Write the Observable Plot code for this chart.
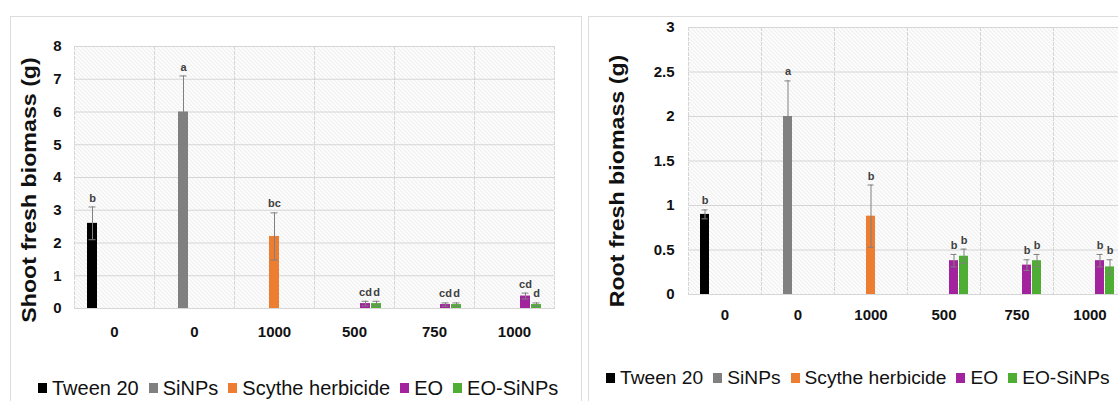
<!DOCTYPE html>
<html><head><meta charset="utf-8">
<script src="https://cdn.jsdelivr.net/npm/d3@7"></script>
<script src="https://cdn.jsdelivr.net/npm/@observablehq/plot@0.6"></script>
<style>
html,body{margin:0;padding:0;background:#fff;}
body{width:1118px;height:401px;overflow:hidden;position:relative;font-family:"Liberation Sans",Arial,sans-serif;}
.panel{position:absolute;border:1px solid #dcdcdc;box-sizing:border-box;background:#fff;}
.chart{position:absolute;top:0;}
.chart svg{max-width:none !important;}
.ytitle{position:absolute;font-weight:bold;font-size:20px;color:#111;white-space:nowrap;transform:translate(-50%,-50%) rotate(-90deg) scaleX(1.16);line-height:1;}
.legend{position:absolute;display:flex;align-items:center;font-size:20px;color:#111;white-space:nowrap;line-height:22px;}
.legend .item{display:flex;align-items:center;margin-right:10px;}
.legend .sw{width:9px;height:10px;margin-right:5px;}
</style></head>
<body>
<div class="panel" style="left:10px;top:16px;width:572px;height:430px;"></div>
<div class="panel" style="left:588px;top:16px;width:580px;height:430px;"></div>
<div id="left" class="chart" style="left:0px;width:580px;"></div>
<div id="right" class="chart" style="left:588px;width:560px;"></div>
<div class="ytitle" style="left:29px;top:190px;">Shoot fresh biomass (g)</div>
<div class="ytitle" style="left:617px;top:181px;">Root fresh biomass (g)</div>
<div id="legL" class="legend" style="left:38px;top:377px;"></div>
<div id="legR" class="legend" style="left:606px;top:367px;font-size:19.2px;"></div>
<script>
// Concentration labels of the six groups (ppm)
const categories = ["0", "0", "1000", "500", "750", "1000"];
const seriesNames = ["Tween 20", "SiNPs", "Scythe herbicide", "EO", "EO-SiNPs"];
const seriesColors = ["#000000", "#808080", "#ed7d31", "#a3229e", "#4eae33"];

// one entry per bar
const barGroup  = [0, 1, 2, 3, 3, 4, 4, 5, 5];
const barSeries = ["Tween 20", "SiNPs", "Scythe herbicide", "EO", "EO-SiNPs", "EO", "EO-SiNPs", "EO", "EO-SiNPs"];

const shootValues  = [2.6, 6.0, 2.2, 0.15, 0.15, 0.12, 0.12, 0.38, 0.12];
const shootErrors  = [0.5, 1.1, 0.72, 0.07, 0.07, 0.05, 0.05, 0.09, 0.05];
const shootLetters = ["b", "a", "bc", "cd", "d", "cd", "d", "cd", "d"];
const shootTicks   = [0, 1, 2, 3, 4, 5, 6, 7, 8];

const rootValues  = [0.9, 2.0, 0.88, 0.38, 0.43, 0.33, 0.38, 0.38, 0.31];
const rootErrors  = [0.05, 0.4, 0.35, 0.07, 0.08, 0.06, 0.07, 0.07, 0.08];
const rootLetters = ["b", "a", "b", "b", "b", "b", "b", "b", "b"];
const rootTicks   = [0, 0.5, 1, 1.5, 2, 2.5, 3];

function makeChart({values, errors, letters, ticks, id, width, height, marginLeft, marginRight, marginTop, marginBottom, fxPad, yPad, pInner, pOuter}) {
  const data = barGroup.map((g, i) => ({group: g, series: barSeries[i], value: values[i], err: errors[i], letter: letters[i]}));
  const grid = "#d6d6d6";
  const svg = Plot.plot({
    width, height, marginLeft, marginRight, marginTop, marginBottom,
    style: {fontFamily: '"Liberation Sans", Arial, sans-serif', fontSize: "15px", fontWeight: "bold", color: "#111", background: "transparent", overflow: "visible", maxWidth: "none"},
    fx: {domain: d3.range(categories.length), padding: 0, axis: "bottom", label: null, tickSize: 0, tickPadding: fxPad, tickFormat: i => categories[i]},
    x: {domain: seriesNames, axis: null, paddingInner: pInner, paddingOuter: pOuter},
    y: {domain: [ticks[0], ticks[ticks.length - 1]], ticks, tickFormat: d => String(d), tickSize: 0, tickPadding: yPad, label: null},
    color: {domain: seriesNames, range: seriesColors},
    marks: [
      Plot.frame({fill: `url(#${id})`}),
      Plot.ruleY(ticks, {stroke: grid, strokeWidth: 1}),
      Plot.frame({anchor: "left", stroke: grid, strokeDasharray: "3,2"}),
      Plot.frame({anchor: "right", stroke: grid, strokeDasharray: "3,2"}),
      Plot.barY(data, {fx: "group", x: "series", y: "value", fill: "series"}),
      Plot.ruleX(data, {fx: "group", x: "series", y1: d => d.value - d.err, y2: d => d.value + d.err, stroke: "#808080", strokeWidth: 1}),
      Plot.tickY(data, {fx: "group", x: "series", y: d => d.value + d.err, stroke: "#808080", insetLeft: 1.5, insetRight: 1.5}),
      Plot.tickY(data, {fx: "group", x: "series", y: d => d.value - d.err, stroke: "#808080", insetLeft: 1.5, insetRight: 1.5}),
      Plot.text(data, {fx: "group", x: "series", y: d => d.value + d.err, text: "letter", dy: -9, fontSize: 11, fontWeight: "bold", fill: "#404040"})
    ]
  });
  const ns = "http://www.w3.org/2000/svg";
  const defs = document.createElementNS(ns, "defs");
  defs.innerHTML = `<pattern id="${id}" width="4" height="4" patternUnits="userSpaceOnUse"><rect width="4" height="4" fill="#ffffff"/><path d="M0,0L4,4M-1,3L1,5M3,-1L5,1" stroke="#dcdcdc" stroke-width="0.8"/></pattern>`;
  svg.prepend(defs);
  return svg;
}

document.getElementById("left").append(makeChart({
  values: shootValues, errors: shootErrors, letters: shootLetters, ticks: shootTicks, id: "hatchL",
  width: 580, height: 345, marginLeft: 72, marginRight: 24, marginTop: 46, marginBottom: 37,
  fxPad: 18, yPad: 13, pInner: 0.125, pOuter: 0.925
}));
document.getElementById("right").append(makeChart({
  values: rootValues, errors: rootErrors, letters: rootLetters, ticks: rootTicks, id: "hatchR",
  width: 560, height: 340, marginLeft: 97, marginRight: 20, marginTop: 27, marginBottom: 46,
  fxPad: 15, yPad: 14, pInner: 0.15, pOuter: 0.92
}));

function legend(el) {
  seriesNames.forEach((s, i) => {
    const item = document.createElement("div");
    item.className = "item";
    const sw = document.createElement("span");
    sw.className = "sw";
    sw.style.background = seriesColors[i];
    const t = document.createElement("span");
    t.textContent = s;
    item.append(sw, t);
    el.append(item);
  });
}
legend(document.getElementById("legL"));
legend(document.getElementById("legR"));
</script>
</body></html>
